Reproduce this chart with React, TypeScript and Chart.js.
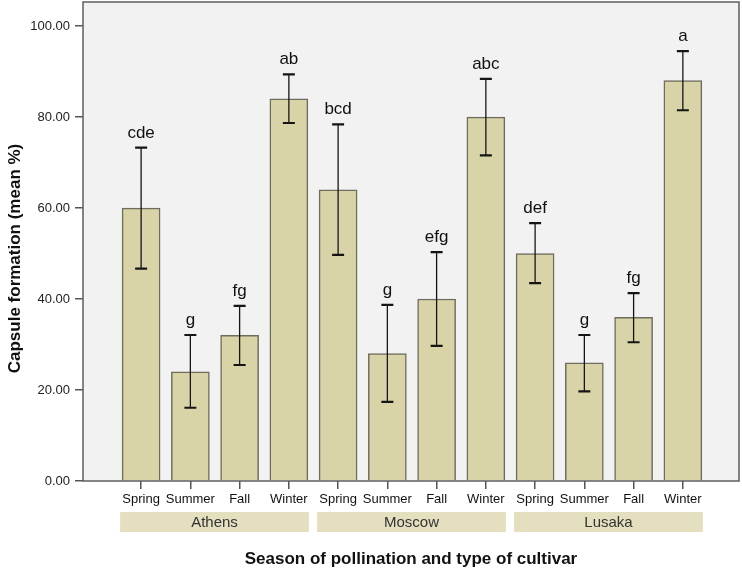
import React, { useEffect, useRef } from 'react';
import { Chart, registerables } from 'chart.js';

Chart.register(...registerables);

const seasons = ['Spring', 'Summer', 'Fall', 'Winter', 'Spring', 'Summer', 'Fall', 'Winter', 'Spring', 'Summer', 'Fall', 'Winter'];
const cultivars = ['Athens', 'Moscow', 'Lusaka'];
const means = [60, 24, 32, 84, 64, 28, 40, 80, 50, 26, 36, 88];
const lowerCI = [46.7, 16.1, 25.5, 78.7, 49.7, 17.4, 29.7, 71.6, 43.5, 19.7, 30.5, 81.5];
const upperCI = [73.3, 32.1, 38.5, 89.4, 78.4, 38.7, 50.3, 88.4, 56.7, 32.1, 41.3, 94.5];
const letters = ['cde', 'g', 'fg', 'ab', 'bcd', 'g', 'efg', 'abc', 'def', 'g', 'fg', 'a'];
const yTicks = [0, 20, 40, 60, 80, 100];

const FONT = '"Liberation Sans", Arial, Helvetica, sans-serif';

const decor = {
  id: 'decor',
  beforeDraw(chart: any) {
    const { ctx, chartArea: a } = chart;
    ctx.save();
    ctx.fillStyle = '#f2f2f2';
    ctx.fillRect(a.left, a.top, a.right - a.left, a.bottom - a.top);
    ctx.restore();
  },
  afterDatasetsDraw(chart: any) {
    const { ctx, chartArea: a } = chart;
    const xs = chart.scales.x;
    const ys = chart.scales.y;
    ctx.save();
    // plot border
    ctx.strokeStyle = '#5e5e5e';
    ctx.lineWidth = 1.5;
    ctx.strokeRect(a.left, a.top, a.right - a.left, a.bottom - a.top);
    // error bars + letters
    for (let i = 0; i < means.length; i++) {
      const x = xs.getPixelForValue(i);
      const yt = ys.getPixelForValue(upperCI[i]);
      const yb = ys.getPixelForValue(lowerCI[i]);
      ctx.strokeStyle = '#151515';
      ctx.lineWidth = 1.3;
      ctx.beginPath();
      ctx.moveTo(x, yt);
      ctx.lineTo(x, yb);
      ctx.stroke();
      ctx.lineWidth = 2.2;
      ctx.beginPath();
      ctx.moveTo(x - 6, yt);
      ctx.lineTo(x + 6, yt);
      ctx.moveTo(x - 6, yb);
      ctx.lineTo(x + 6, yb);
      ctx.stroke();
      ctx.fillStyle = '#111';
      ctx.font = `17px ${FONT}`;
      ctx.textAlign = 'center';
      ctx.textBaseline = 'alphabetic';
      ctx.fillText(letters[i], x, yt - 10);
    }
    ctx.restore();
  },
  afterDraw(chart: any) {
    const { ctx, chartArea: a } = chart;
    const xs = chart.scales.x;
    const meta = chart.getDatasetMeta(0);
    ctx.save();
    cultivars.forEach((name, g) => {
      const first = g * 4;
      const last = g * 4 + 3;
      const bw = meta.data[first] ? meta.data[first].width : 38;
      const left = xs.getPixelForValue(first) - bw / 2 - 2;
      const right = xs.getPixelForValue(last) + bw / 2 + 1;
      ctx.fillStyle = '#e3dfbf';
      ctx.fillRect(left, a.bottom + 31, right - left, 20);
      ctx.fillStyle = '#333';
      ctx.font = `15px ${FONT}`;
      ctx.textAlign = 'center';
      ctx.textBaseline = 'middle';
      ctx.fillText(name, (left + right) / 2, a.bottom + 41.5);
    });
    // axis titles
    ctx.fillStyle = '#111';
    ctx.font = `bold 17px ${FONT}`;
    ctx.textAlign = 'center';
    ctx.textBaseline = 'middle';
    ctx.fillText('Season of pollination and type of cultivar', (a.left + a.right) / 2, a.bottom + 78);
    ctx.translate(15, (a.top + a.bottom) / 2 + 17);
    ctx.rotate(-Math.PI / 2);
    ctx.fillText('Capsule formation (mean %)', 0, 0);
    ctx.restore();
  },
};

export default function App() {
  const ref = useRef<HTMLCanvasElement | null>(null);
  useEffect(() => {
    if (!ref.current) return;
    const chart = new Chart(ref.current, {
      type: 'bar',
      data: {
        datasets: [
          {
            data: means.map((v, i) => ({ x: i, y: v })),
            backgroundColor: '#d9d4a7',
            borderColor: '#6d6c5e',
            borderWidth: 1.5,
            barThickness: 38,
          } as any,
        ],
      },
      options: {
        animation: false,
        responsive: false,
        devicePixelRatio: 1,
        layout: { padding: { top: 2, right: 3, left: 0, bottom: 0 } },
        plugins: { legend: { display: false }, tooltip: { enabled: false } },
        scales: {
          x: {
            type: 'linear',
            min: -1.18,
            max: 12.14,
            offset: false,
            afterBuildTicks: (s: any) => {
              s.ticks = seasons.map((_, i) => ({ value: i }));
            },
            afterFit: (s: any) => {
              s.height = 90;
              s.paddingLeft = 0;
              s.paddingRight = 0;
            },
            ticks: {
              autoSkip: false,
              maxRotation: 0,
              callback: (_v: any, i: number) => seasons[i],
              color: '#111',
              font: { size: 13, family: FONT },
              padding: 3,
            },
            grid: { offset: false, drawOnChartArea: false, drawTicks: true, tickLength: 8, color: '#555', lineWidth: 1.5 },
            border: { display: false },
          } as any,
          y: {
            min: 0,
            max: 105.3,
            afterBuildTicks: (s: any) => {
              s.ticks = yTicks.map((v) => ({ value: v }));
            },
            afterFit: (s: any) => {
              s.width = 83;
              s.paddingTop = 0;
              s.paddingBottom = 0;
            },
            ticks: {
              callback: (v: any) => Number(v).toFixed(2),
              color: '#222',
              font: { size: 13, family: FONT },
              padding: 5,
            },
            grid: { drawOnChartArea: false, drawTicks: true, tickLength: 8, color: '#555', lineWidth: 1.5 },
            border: { display: false },
          } as any,
        },
      },
      plugins: [decor],
    });
    return () => chart.destroy();
  }, []);
  return (
    <div style={{ position: 'fixed', left: 0, top: 0, width: 742, height: 571, background: '#fff' }}>
      <canvas ref={ref} width={742} height={571} />
    </div>
  );
}
